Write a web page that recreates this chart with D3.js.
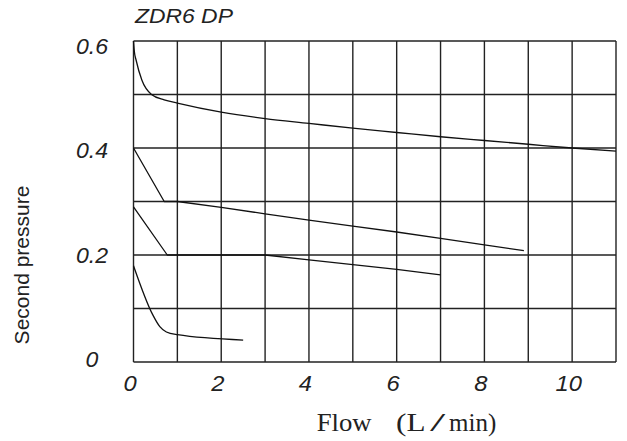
<!DOCTYPE html>
<html>
<head>
<meta charset="utf-8">
<script src="https://cdn.jsdelivr.net/npm/d3@7"></script>
<style>
  html, body { margin: 0; padding: 0; background: #fff; }
  svg { display: block; }
</style>
</head>
<body>
<svg id="chart" width="627" height="441"></svg>
<script>
// ---- data ----
const chartTitle = "ZDR6 DP";
const xTicks = [0, 2, 4, 6, 8, 10];
const yTicks = [0, 0.2, 0.4, 0.6];
const yTickLabels = ["0", "0.2", "0.4", "0.6"];
const xGrid = [0, 1, 2, 3, 4, 5, 6, 7, 8, 9, 10, 11];
const yGrid = [0, 0.1, 0.2, 0.3, 0.4, 0.5, 0.6];

// flow (L/min) / second pressure
const curve1 = [[0,0.6],[0.02,0.58],[0.06,0.564],[0.19,0.527],[0.41,0.5],[0.7,0.49],[1,0.484],[2,0.467],[3,0.455],[4,0.446],[5,0.437],[6,0.429],[7,0.421],[8,0.414],[9,0.407],[10,0.4],[11,0.394]];
const curve2 = [[0,0.4],[0.7,0.3],[1,0.3],[2,0.289],[3,0.277],[4,0.265],[5,0.254],[6,0.243],[7,0.231],[8,0.219],[8.9,0.208]];
const curve3 = [[0,0.29],[0.77,0.2],[1,0.2],[2,0.2],[3,0.2],[4,0.191],[5,0.182],[6,0.173],[7,0.163]];
const curve4 = [[0,0.18],[0.44,0.088],[0.6,0.066],[0.75,0.056],[1,0.051],[2.5,0.041]];
const curves = [curve1, curve2, curve3, curve4];
const curveSmooth = [true, false, false, true];

// ---- layout ----
const svg = d3.select("#chart");
const x = d3.scaleLinear().domain([0, 11]).range([133.5, 616]);
const y = d3.scaleLinear().domain([0, 0.6]).range([362, 41]);
const yLab = d3.scaleLinear().domain([0, 0.6]).range([359, 46]);

const ink = "#222";
const sans = "'Liberation Sans', Arial, Helvetica, sans-serif";
const serif = "'Liberation Serif', 'Times New Roman', serif";

// grid
svg.append("g").selectAll("line").data(xGrid).join("line")
  .attr("x1", d => x(d)).attr("x2", d => x(d))
  .attr("y1", y(0)).attr("y2", y(0.6))
  .attr("stroke", ink).attr("stroke-width", 1.4);
svg.append("g").selectAll("line").data(yGrid).join("line")
  .attr("x1", x(0)).attr("x2", x(11))
  .attr("y1", d => y(d)).attr("y2", d => y(d))
  .attr("stroke", ink).attr("stroke-width", 1.4);

// curves
curves.forEach((c, i) => {
  const line = d3.line().x(d => x(d[0])).y(d => y(d[1]))
    .curve(curveSmooth[i] ? d3.curveMonotoneX : d3.curveLinear);
  svg.append("path").datum(c).attr("d", line)
    .attr("fill", "none").attr("stroke", "#111").attr("stroke-width", 1.3)
    .attr("stroke-linejoin", "round");
});

// x tick labels
svg.append("g").selectAll("text").data(xTicks).join("text")
  .attr("transform", d => `translate(${x(d) - 3.5},391) scale(1.08,1)`)
  .attr("text-anchor", "middle")
  .attr("font-family", sans)
  .attr("font-style", "italic").attr("font-size", 22).attr("fill", "#222")
  .text(d => String(d));

// y tick labels
svg.append("g").selectAll("text").data(yTicks).join("text")
  .attr("transform", d => `translate(92,${yLab(d) + 8}) scale(1.05,1)`)
  .attr("text-anchor", "middle")
  .attr("font-family", sans)
  .attr("font-style", "italic").attr("font-size", 22).attr("fill", "#222")
  .text((d, i) => yTickLabels[i]);

// title
svg.append("text")
  .attr("transform", "translate(135,22.7) scale(1.145,1)")
  .attr("font-family", sans)
  .attr("font-style", "italic").attr("font-size", 20).attr("fill", "#222")
  .text(chartTitle);

// y title
svg.append("text")
  .attr("transform", "translate(28.5,265) rotate(-90)")
  .attr("text-anchor", "middle")
  .attr("font-family", sans)
  .attr("font-size", 21).attr("fill", "#222")
  .text("Second pressure");

// x title
function serifText(str, tx, sx) {
  svg.append("text")
    .attr("transform", `translate(${tx},431) scale(${sx},1)`)
    .attr("font-family", serif)
    .attr("font-size", 25).attr("fill", "#222")
    .text(str);
}
serifText("Flow", 316.7, 1.07);
serifText("(L", 396, 1.25);
serifText("/", 430, 2.2);
serifText("min)", 449, 1.0);
</script>
</body>
</html>
